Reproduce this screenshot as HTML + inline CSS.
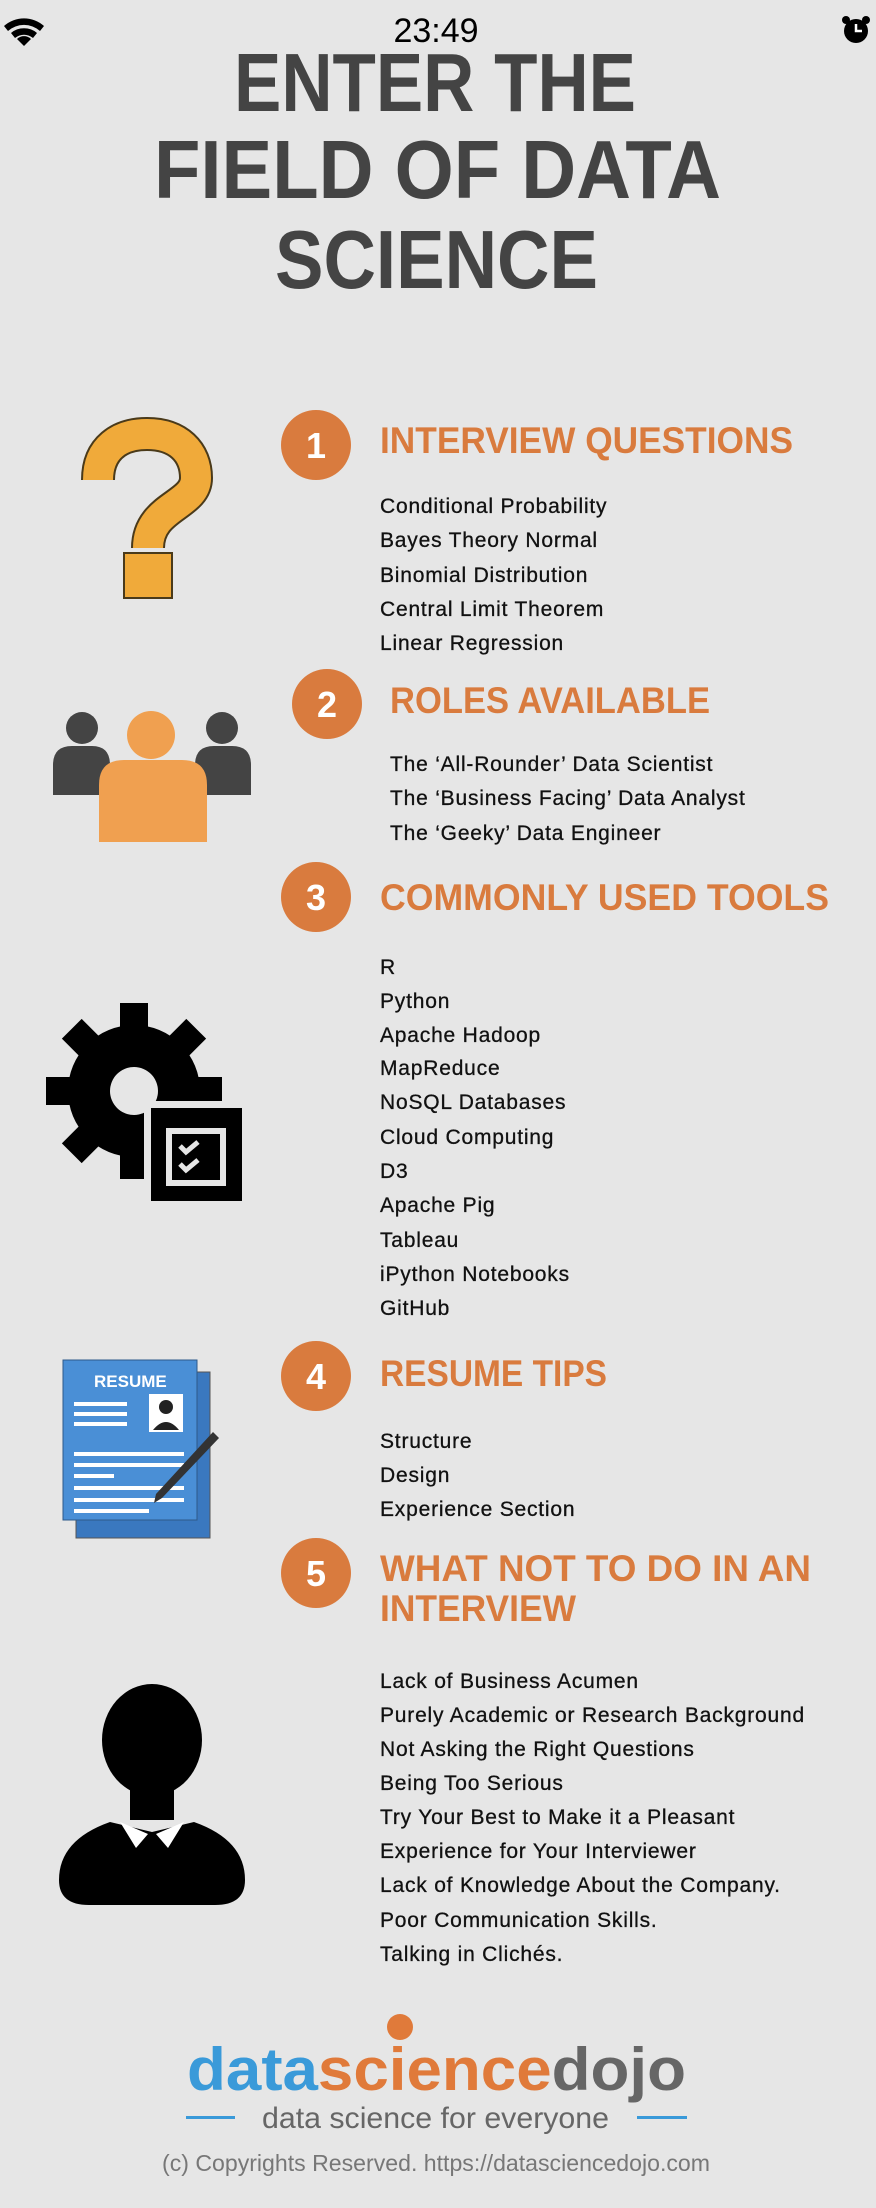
<!DOCTYPE html>
<html><head><meta charset="utf-8"><style>
html,body{margin:0;padding:0;background:#e6e6e6;}
svg{display:block;}
text{font-family:"Liberation Sans",sans-serif;}
.h{font-weight:bold;fill:#d97b3e;font-size:37px;}
.it{fill:#111;font-size:21px;letter-spacing:0.8px;stroke:#111;stroke-width:0.3px;}
.num{fill:#fff;font-weight:bold;font-size:36px;}
</style></head><body>
<svg width="876" height="2208" viewBox="0 0 876 2208">
<rect width="876" height="2208" fill="#e6e6e6"/>
<g fill="#000">
<path d="M4 26 A30 30 0 0 1 44 26 L40 31 A24 24 0 0 0 8 31Z"/>
<path d="M11 33 A20 20 0 0 1 37 33 L33 38 A14 14 0 0 0 15 38Z"/>
<path d="M24 46 L17 39 A10 10 0 0 1 31 39Z"/>
</g>
<text x="436" y="42" text-anchor="middle" font-size="34" fill="#000">23:49</text>
<g><circle cx="856" cy="31" r="12" fill="#000"/><path d="M856 24 V31 H862" stroke="#fff" stroke-width="2.5" fill="none"/><circle cx="846" cy="20" r="4" fill="#000"/><circle cx="866" cy="20" r="4" fill="#000"/></g>
<g font-weight="bold" fill="#444" font-size="83">
<text x="234" y="111" textLength="402" lengthAdjust="spacingAndGlyphs">ENTER THE</text>
<text x="154" y="198" textLength="567" lengthAdjust="spacingAndGlyphs">FIELD OF DATA</text>
<text x="275" y="288" textLength="323" lengthAdjust="spacingAndGlyphs">SCIENCE</text>
</g>
<g>
<path d="M98 480 C98 448 120 434 147 434 C178 434 196 452 196 478 C196 506 148 506 148 548" fill="none" stroke="#4a3a1a" stroke-width="34"/>
<path d="M98 480 C98 448 120 434 147 434 C178 434 196 452 196 478 C196 506 148 506 148 548" fill="none" stroke="#f0aa3a" stroke-width="30"/>
<rect x="124" y="553" width="48" height="45" fill="#f0aa3a" stroke="#4a3a1a" stroke-width="2"/>
</g>
<circle cx="316" cy="445" r="35" fill="#d97b3e"/>
<text x="316" y="458" text-anchor="middle" class="num">1</text>
<text x="380" y="453" class="h" textLength="413" lengthAdjust="spacingAndGlyphs">INTERVIEW QUESTIONS</text>
<g>
<text class="it" x="380" y="513">Conditional Probability</text>
<text class="it" x="380" y="547">Bayes Theory Normal</text>
<text class="it" x="380" y="582">Binomial Distribution</text>
<text class="it" x="380" y="616">Central Limit Theorem</text>
<text class="it" x="380" y="650">Linear Regression</text>
</g>
<g>
<circle cx="82" cy="728" r="16" fill="#444"/><path d="M53 795 V765 Q53 746 72 746 H92 Q110 746 110 765 V795Z" fill="#444"/>
<circle cx="222" cy="728" r="16" fill="#444"/><path d="M195 795 V765 Q195 746 214 746 H232 Q251 746 251 765 V795Z" fill="#444"/>
<circle cx="151" cy="735" r="24" fill="#f0a050"/><path d="M99 842 V785 Q99 760 124 760 H182 Q207 760 207 785 V842Z" fill="#f0a050"/>
</g>
<circle cx="327" cy="704" r="35" fill="#d97b3e"/>
<text x="327" y="717" text-anchor="middle" class="num">2</text>
<text x="390" y="713" class="h" textLength="320" lengthAdjust="spacingAndGlyphs">ROLES AVAILABLE</text>
<g>
<text class="it" x="390" y="771">The ‘All-Rounder’ Data Scientist</text>
<text class="it" x="390" y="805">The ‘Business Facing’ Data Analyst</text>
<text class="it" x="390" y="840">The ‘Geeky’ Data Engineer</text>
</g>
<g>
<g fill="#000" transform="translate(134 1091)">
<rect x="-14" y="-88" width="28" height="30" transform="rotate(0)"/>
<rect x="-14" y="-88" width="28" height="30" transform="rotate(45)"/>
<rect x="-14" y="-88" width="28" height="30" transform="rotate(90)"/>
<rect x="-14" y="-88" width="28" height="30" transform="rotate(135)"/>
<rect x="-14" y="-88" width="28" height="30" transform="rotate(180)"/>
<rect x="-14" y="-88" width="28" height="30" transform="rotate(225)"/>
<rect x="-14" y="-88" width="28" height="30" transform="rotate(270)"/>
<rect x="-14" y="-88" width="28" height="30" transform="rotate(315)"/>
<circle r="66"/><circle r="24" fill="#e6e6e6"/>
</g>
<rect x="144" y="1101" width="106" height="106" fill="#e6e6e6"/>
<rect x="151" y="1108" width="91" height="93" fill="#000"/>
<rect x="166" y="1128" width="60" height="58" fill="#e6e6e6"/>
<rect x="172" y="1134" width="48" height="46" fill="#000"/>
<path d="M180 1146 l6 6 l12 -10 M180 1164 l6 6 l12 -10" stroke="#e6e6e6" stroke-width="5" fill="none"/>
</g>
<circle cx="316" cy="897" r="35" fill="#d97b3e"/>
<text x="316" y="910" text-anchor="middle" class="num">3</text>
<text x="380" y="910" class="h" textLength="449" lengthAdjust="spacingAndGlyphs">COMMONLY USED TOOLS</text>
<g>
<text class="it" x="380" y="974">R</text>
<text class="it" x="380" y="1008">Python</text>
<text class="it" x="380" y="1042">Apache Hadoop</text>
<text class="it" x="380" y="1075">MapReduce</text>
<text class="it" x="380" y="1109">NoSQL Databases</text>
<text class="it" x="380" y="1144">Cloud Computing</text>
<text class="it" x="380" y="1178">D3</text>
<text class="it" x="380" y="1212">Apache Pig</text>
<text class="it" x="380" y="1247">Tableau</text>
<text class="it" x="380" y="1281">iPython Notebooks</text>
<text class="it" x="380" y="1315">GitHub</text>
</g>
<g>
<rect x="76" y="1372" width="134" height="166" fill="#3a78bf" stroke="#555" stroke-width="1"/>
<rect x="63" y="1360" width="134" height="160" fill="#4a8fd6" stroke="#2d5a8a" stroke-width="1"/>
<text x="94" y="1387" fill="#fff" font-size="17" font-weight="bold">RESUME</text>
<rect x="149" y="1394" width="34" height="38" fill="#fff"/>
<circle cx="166" cy="1407" r="7" fill="#222"/><path d="M153 1430 q13 -16 26 0z" fill="#222"/>
<g fill="#fff"><rect x="74" y="1402" width="53" height="4"/><rect x="74" y="1412" width="53" height="4"/><rect x="74" y="1422" width="53" height="4"/>
<rect x="74" y="1452" width="110" height="4"/><rect x="74" y="1463" width="110" height="4"/><rect x="74" y="1474" width="40" height="4"/><rect x="74" y="1486" width="110" height="4"/><rect x="74" y="1498" width="110" height="4"/><rect x="74" y="1509" width="75" height="4"/></g>
<path d="M213 1432 L219 1438 L162 1498 L154 1503 L156 1494Z" fill="#333"/>
</g>
<circle cx="316" cy="1376" r="35" fill="#d97b3e"/>
<text x="316" y="1389" text-anchor="middle" class="num">4</text>
<text x="380" y="1386" class="h" textLength="227" lengthAdjust="spacingAndGlyphs">RESUME TIPS</text>
<g>
<text class="it" x="380" y="1448">Structure</text>
<text class="it" x="380" y="1482">Design</text>
<text class="it" x="380" y="1516">Experience Section</text>
</g>
<g fill="#000">
<ellipse cx="152" cy="1740" rx="50" ry="56"/>
<rect x="130" y="1780" width="44" height="40"/>
<path d="M59 1880 Q59 1840 110 1822 L152 1832 L194 1822 Q245 1840 245 1880 Q245 1905 215 1905 H89 Q59 1905 59 1880Z"/>
<path d="M120 1822 L136 1848 L148 1834Z M184 1822 L168 1848 L156 1834Z" fill="#fff"/>
</g>
<circle cx="316" cy="1573" r="35" fill="#d97b3e"/>
<text x="316" y="1586" text-anchor="middle" class="num">5</text>
<g>
<text x="380" y="1581" class="h" textLength="431" lengthAdjust="spacingAndGlyphs">WHAT NOT TO DO IN AN</text>
<text x="380" y="1621" class="h" textLength="196" lengthAdjust="spacingAndGlyphs">INTERVIEW</text>
</g>
<g>
<text class="it" x="380" y="1688">Lack of Business Acumen</text>
<text class="it" x="380" y="1722">Purely Academic or Research Background</text>
<text class="it" x="380" y="1756">Not Asking the Right Questions</text>
<text class="it" x="380" y="1790">Being Too Serious</text>
<text class="it" x="380" y="1824">Try Your Best to Make it a Pleasant</text>
<text class="it" x="380" y="1858">Experience for Your Interviewer</text>
<text class="it" x="380" y="1892">Lack of Knowledge About the Company.</text>
<text class="it" x="380" y="1927">Poor Communication Skills.</text>
<text class="it" x="380" y="1961">Talking in Clichés.</text>
</g>
<circle cx="400" cy="2027" r="13" fill="#e07a3a"/>
<text x="187" y="2090" font-size="60" font-weight="bold" textLength="499" lengthAdjust="spacingAndGlyphs"><tspan fill="#3a9ad9">data</tspan><tspan fill="#e07a3a">science</tspan><tspan fill="#666">dojo</tspan></text>
<rect x="186" y="2116" width="49" height="3" fill="#3a9ad9"/>
<rect x="637" y="2116" width="50" height="3" fill="#3a9ad9"/>
<text x="262" y="2128" font-size="30" fill="#666" textLength="347" lengthAdjust="spacingAndGlyphs">data science for everyone</text>
<text x="162" y="2171" font-size="23" fill="#777" textLength="548" lengthAdjust="spacingAndGlyphs">(c) Copyrights Reserved. https://datasciencedojo.com</text>
</svg>
</body></html>
